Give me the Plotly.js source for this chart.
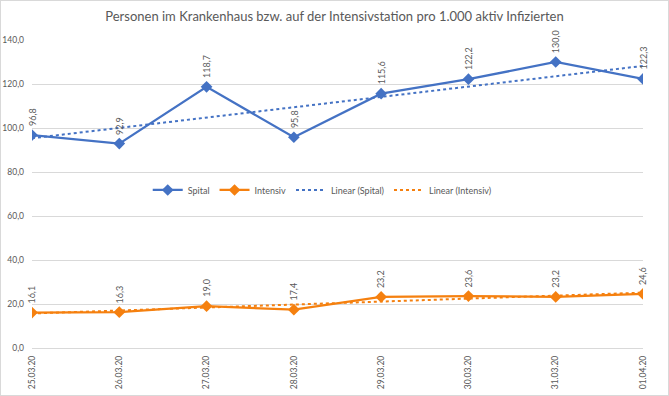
<!DOCTYPE html>
<html>
<head>
<meta charset="utf-8">
<script src="https://cdn.plot.ly/plotly-3.0.1.min.js"></script>
<style>
html,body{margin:0;padding:0;background:#fff;}
#chart{width:667px;height:394px;border:1px solid #d9d9d9;}
</style>
</head>
<body>
<div id="chart"></div>
<script>
const dates = ['25.03.20','26.03.20','27.03.20','28.03.20','29.03.20','30.03.20','31.03.20','01.04.20'];
const spital = [96.8, 92.9, 118.7, 95.8, 115.6, 122.2, 130.0, 122.3];
const intensiv = [16.1, 16.3, 19.0, 17.4, 23.2, 23.6, 23.2, 24.6];
const titleText = 'Personen im Krankenhaus bzw. auf der Intensivstation pro 1.000 aktiv Infizierten';

const blue = '#4472C4';
const orange = '#F5800F';
const gray = '#595959';
const font = 'Lato, "Liberation Sans", sans-serif';

// Excel-style linear trendline (least squares over the category index)
function trend(vals){
  const n = vals.length;
  let sx=0, sy=0, sxy=0, sxx=0;
  vals.forEach((v,i)=>{sx+=i; sy+=v; sxy+=i*v; sxx+=i*i;});
  const b = (n*sxy - sx*sy)/(n*sxx - sx*sx);
  const a = (sy - b*sx)/n;
  return vals.map((v,i)=>a+b*i);
}

const traces = [
  {x: dates, y: spital, name: 'Spital', type: 'scatter', mode: 'lines+markers',
   line: {color: blue, width: 2.25}, marker: {symbol: 'diamond', size: 9, color: blue}},
  {x: dates, y: intensiv, name: 'Intensiv', type: 'scatter', mode: 'lines+markers',
   line: {color: orange, width: 2.25}, marker: {symbol: 'diamond', size: 9, color: orange}},
  {x: dates, y: trend(spital), name: 'Linear (Spital)', type: 'scatter', mode: 'lines',
   line: {color: blue, width: 2, dash: 'dot'}, hoverinfo: 'skip'},
  {x: dates, y: trend(intensiv), name: 'Linear (Intensiv)', type: 'scatter', mode: 'lines',
   line: {color: orange, width: 2, dash: 'dot'}, hoverinfo: 'skip'}
];

const annotations = [];
[spital, intensiv].forEach(series=>{
  series.forEach((v,i)=>{
    annotations.push({x: dates[i], y: v, xref: 'x', yref: 'y',
      text: v.toFixed(1).replace('.', ','), showarrow: false, textangle: -90,
      yanchor: 'bottom', xanchor: 'center', yshift: 7,
      font: {family: font, size: 9, color: gray}});
  });
});

const layout = {
  width: 667, height: 394,
  margin: {l: 31, r: 25, t: 39, b: 47},
  paper_bgcolor: '#fff', plot_bgcolor: '#fff',
  separators: ',.',
  title: {text: titleText, font: {family: font, size: 13, color: gray}, x: 0.5, xanchor: 'center', y: 0.96, yanchor: 'middle'},
  xaxis: {type: 'category', range: [0, 7], showgrid: false, zeroline: false,
    showline: false, ticks: '', tickangle: -90, ticklabelstandoff: 5,
    tickfont: {family: font, size: 8.5, color: gray}, automargin: false},
  yaxis: {range: [0, 140], dtick: 20, tickformat: '.1f', showgrid: true,
    gridcolor: '#d9d9d9', gridwidth: 1, zeroline: true, zerolinecolor: '#d9d9d9',
    showline: false, ticks: '', ticklabelstandoff: 7, tickfont: {family: font, size: 8.5, color: gray}, automargin: false},
  showlegend: true,
  legend: {orientation: 'h', x: 0.475, xanchor: 'center', y: 0.513, yanchor: 'middle',
    font: {family: font, size: 9, color: gray}, bgcolor: 'rgba(255,255,255,0)'},
  annotations: annotations
};

Plotly.newPlot('chart', traces, layout, {displayModeBar: false, staticPlot: true});
</script>
</body>
</html>
